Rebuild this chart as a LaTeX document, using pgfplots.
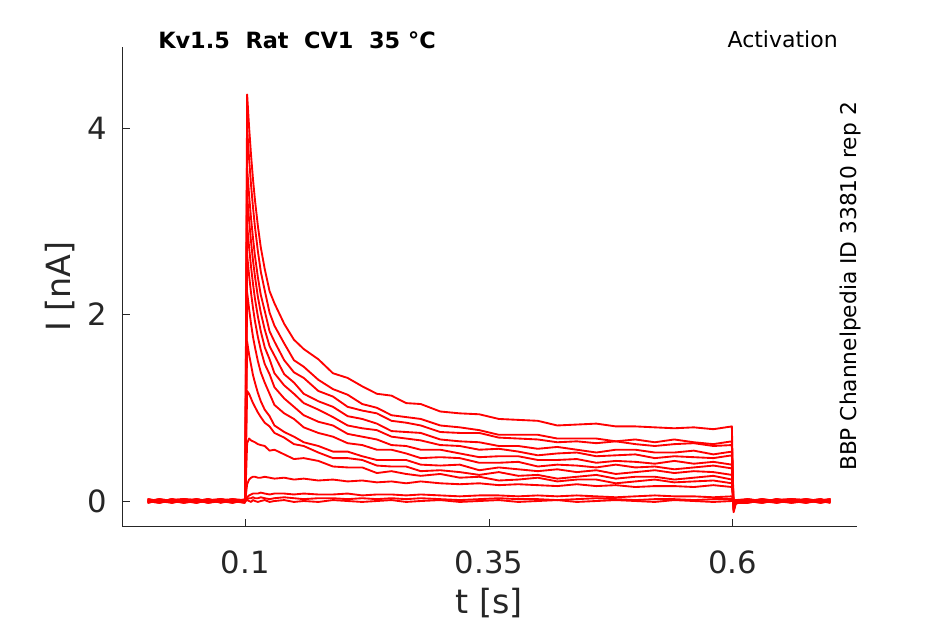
\documentclass[border=0pt]{standalone}
\usepackage{fontspec}
\setmainfont{DejaVu Sans}
\usepackage{pgfplots}
\usepackage{pgfplotstable}
\pgfplotsset{compat=1.18}
\definecolor{axgray}{RGB}{38,38,38}
\pgfplotstableread{
t y1 y2 y3 y4 y5 y6 y7 y8 y9 y10 y11 y12 y13 y14
0.000 0.01 -0.01 0.02 0 -0.02 0.01 -0.01 0.02 0 -0.02 0.01 0 -0.01 0.02
0.012 -0.01 0.02 0 -0.02 0.01 -0.01 0.02 0 -0.02 0.01 -0.01 0.02 0 -0.01
0.025 0.02 0 -0.02 0.01 -0.01 0.02 0 -0.01 0.01 0 0.02 -0.02 0.01 0
0.037 0 -0.02 0.01 0.02 0 -0.01 0.01 0.02 -0.01 0.02 -0.02 0.01 0.02 -0.01
0.050 -0.02 0.01 -0.01 0 0.02 0 -0.02 0.01 0.02 -0.01 0 -0.01 0.01 0.02
0.062 0.01 0 0.02 -0.01 -0.01 0.02 0.01 -0.02 0 0.01 0.02 0 -0.02 0
0.075 0 0.02 -0.01 0.01 0.02 -0.02 0 0.01 -0.01 0.02 -0.01 0.02 0 -0.01
0.087 0.02 -0.01 0 -0.02 0.01 0.01 -0.02 0 0.02 -0.01 0.01 -0.01 0.02 0.01
0.0995 0 0.01 -0.02 0.01 0 -0.01 0.02 -0.01 0.01 0 -0.02 0.01 -0.01 0
0.1000 0 0.01 0 -0.01 0 0.01 0 0 0.01 0 0 -0.01 0.01 0
0.102 4.36 4.00 3.57 3.28 2.96 2.64 2.24 1.71 1.18 0.62 0.18 0.04 0.02 0.01
0.104 4.01 3.67 3.28 3.01 2.72 2.42 2.06 1.57 1.15 0.67 0.23 0.06 0.03 0.00
0.106 3.71 3.39 3.03 2.78 2.51 2.23 1.90 1.46 1.10 0.65 0.25 0.07 0.03 -0.01
0.108 3.45 3.15 2.82 2.58 2.33 2.07 1.76 1.35 1.05 0.64 0.26 0.08 0.04 0.01
0.110 3.23 2.94 2.63 2.41 2.17 1.93 1.65 1.27 1.01 0.63 0.26 0.08 0.03 0.00
0.113 2.95 2.68 2.40 2.19 1.98 1.76 1.50 1.16 0.95 0.61 0.25 0.08 0.03 -0.01
0.116 2.72 2.46 2.21 2.02 1.82 1.62 1.38 1.07 0.90 0.60 0.25 0.09 0.04 0.00
0.120 2.49 2.26 2.04 1.84 1.65 1.47 1.27 0.98 0.84 0.59 0.26 0.08 0.03 0.01
0.125 2.25 2.02 1.82 1.66 1.52 1.36 1.15 0.91 0.80 0.54 0.25 0.07 0.02 -0.01
0.130 2.12 1.88 1.71 1.56 1.37 1.22 1.03 0.81 0.73 0.55 0.24 0.08 0.03 0.00
0.140 1.90 1.69 1.51 1.36 1.24 1.10 0.94 0.74 0.68 0.50 0.25 0.08 0.04 0.01
0.150 1.73 1.51 1.38 1.27 1.15 1.01 0.88 0.69 0.61 0.45 0.23 0.07 0.03 -0.01
0.160 1.63 1.44 1.32 1.15 1.05 0.92 0.79 0.63 0.59 0.46 0.24 0.08 0.02 0.00
0.175 1.52 1.30 1.18 1.07 0.98 0.85 0.73 0.59 0.52 0.43 0.22 0.07 0.03 -0.01
0.190 1.37 1.20 1.12 1.01 0.90 0.81 0.69 0.53 0.46 0.37 0.23 0.07 0.03 0.01
0.205 1.32 1.14 1.01 0.91 0.81 0.72 0.62 0.53 0.46 0.36 0.21 0.08 0.02 0.00
0.220 1.23 1.04 0.97 0.88 0.78 0.69 0.60 0.48 0.44 0.36 0.22 0.06 0.03 -0.01
0.235 1.15 1.00 0.94 0.83 0.76 0.66 0.55 0.44 0.38 0.30 0.20 0.07 0.02 0.00
0.250 1.13 0.92 0.86 0.75 0.69 0.60 0.55 0.44 0.37 0.32 0.21 0.07 0.03 0.01
0.265 1.05 0.90 0.84 0.74 0.67 0.59 0.51 0.44 0.37 0.29 0.19 0.06 0.02 -0.01
0.280 1.04 0.88 0.81 0.73 0.65 0.55 0.46 0.39 0.32 0.27 0.21 0.07 0.03 0.00
0.300 0.96 0.81 0.74 0.66 0.60 0.55 0.47 0.38 0.33 0.29 0.19 0.06 0.02 0.01
0.320 0.94 0.79 0.73 0.64 0.59 0.51 0.46 0.39 0.31 0.25 0.18 0.05 0.01 -0.01
0.340 0.93 0.76 0.73 0.63 0.55 0.47 0.41 0.33 0.28 0.26 0.19 0.06 0.02 0.00
0.360 0.88 0.71 0.68 0.59 0.56 0.48 0.41 0.36 0.31 0.22 0.17 0.06 0.03 0.01
0.380 0.87 0.71 0.67 0.59 0.53 0.48 0.42 0.34 0.27 0.23 0.18 0.05 0.02 -0.01
0.400 0.86 0.71 0.66 0.56 0.49 0.44 0.37 0.32 0.28 0.25 0.17 0.06 0.02 0.00
0.420 0.81 0.67 0.63 0.58 0.51 0.44 0.39 0.34 0.24 0.21 0.16 0.05 0.01 0.01
0.440 0.82 0.67 0.64 0.55 0.52 0.45 0.38 0.31 0.26 0.23 0.18 0.06 0.02 -0.01
0.460 0.83 0.67 0.62 0.52 0.48 0.41 0.36 0.33 0.28 0.23 0.16 0.05 0.03 0.00
0.480 0.80 0.64 0.64 0.55 0.49 0.43 0.39 0.29 0.24 0.19 0.17 0.04 0.02 0.01
0.500 0.80 0.66 0.61 0.55 0.50 0.42 0.36 0.31 0.26 0.21 0.15 0.05 0.01 0.00
0.520 0.79 0.63 0.59 0.52 0.46 0.40 0.37 0.33 0.26 0.23 0.16 0.06 0.02 -0.01
0.540 0.78 0.66 0.61 0.52 0.48 0.43 0.34 0.30 0.23 0.20 0.16 0.05 0.02 0.01
0.560 0.79 0.63 0.62 0.54 0.47 0.40 0.36 0.32 0.25 0.21 0.15 0.05 0.01 0.00
0.580 0.77 0.61 0.59 0.50 0.46 0.42 0.38 0.31 0.27 0.22 0.17 0.04 0.02 -0.01
0.599 0.80 0.64 0.60 0.53 0.49 0.39 0.35 0.28 0.23 0.19 0.15 0.05 0.02 0.00
0.6008 -0.12 -0.10 -0.10 -0.09 -0.08 -0.07 -0.06 -0.05 -0.04 -0.03 -0.02 -0.01 -0.01 0
0.603 -0.03 -0.02 -0.02 -0.01 -0.02 -0.01 -0.01 0 -0.01 0 0.01 0 -0.01 0.01
0.615 0.01 -0.01 0.02 0 -0.02 0.01 -0.01 0.02 0 -0.02 0.01 0 -0.01 0.02
0.630 -0.01 0.02 0 -0.02 0.01 -0.01 0.02 0 -0.02 0.01 -0.01 0.02 0 -0.01
0.645 0.02 0 -0.02 0.01 -0.01 0.02 0 -0.01 0.01 0 0.02 -0.02 0.01 0
0.660 0 -0.02 0.01 0.02 0 -0.01 0.01 0.02 -0.01 0.02 -0.02 0.01 0.02 -0.01
0.675 -0.02 0.01 -0.01 0 0.02 0 -0.02 0.01 0.02 -0.01 0 -0.01 0.01 0.02
0.690 0.01 0 0.02 -0.01 -0.01 0.02 0.01 -0.02 0 0.01 0.02 0 -0.02 0
0.700 0 0.02 -0.01 0.01 0.02 -0.02 0 0.01 -0.01 0.02 -0.01 0.02 0 -0.02
}\tracedata
\begin{document}
\begin{tikzpicture}
\path[use as bounding box] (0,0) rectangle (708.75pt,468pt);
\begin{axis}[
  at={(91.725pt,73.5pt)}, anchor=south west,
  scale only axis, width=550.8pt, height=359.25pt,
  xmin=-0.026, xmax=0.727, ymin=-0.268, ymax=4.869,
  clip=false,
  axis x line*=bottom, axis y line*=left,
  axis line style={-, axgray, line width=0.6pt},
  tick align=inside, major tick length=5.5pt,
  tick style={axgray, line width=0.6pt},
  xtick={0.1,0.35,0.6}, xticklabels={0.1,0.35,0.6},
  ytick={0,2,4}, yticklabels={0,2,4},
  /pgf/number format/assume math mode=true,
  ticklabel style={font=\fontsize{23}{27}\selectfont, text=axgray},
  xticklabel style={inner sep=0pt, anchor=north, yshift=-18pt},
  yticklabel style={inner sep=0pt, anchor=east, xshift=-11pt},
  xlabel={t [s]}, ylabel={I [nA]},
  label style={font=\fontsize{25}{30}\selectfont, text=axgray},
  xlabel style={at={(axis description cs:0.5,-0.1608)}, anchor=center},
  ylabel style={at={(axis description cs:-0.0848,0.5)}, anchor=center},
]
\pgfplotsinvokeforeach{1,...,14}{
  \addplot[red, line width=1.4pt, line join=round] table[x=t, y=y#1]{\tracedata};
}
\node[anchor=west, inner sep=0pt, font=\fontsize{16.8}{19}\selectfont\bfseries] at (axis description cs:0.0486,1.0146) {Kv1.5\ \ Rat\ \ CV1\ \ 35 °C};
\node[anchor=east, inner sep=0pt, font=\fontsize{16.5}{19}\selectfont] at (axis description cs:0.9745,1.0167) {Activation};
\node[rotate=90, anchor=center, inner sep=0pt, font=\fontsize{16.3}{19}\selectfont] at (axis description cs:0.9909,0.5) {BBP Channelpedia ID 33810 rep 2};
\end{axis}
\end{tikzpicture}
\end{document}
